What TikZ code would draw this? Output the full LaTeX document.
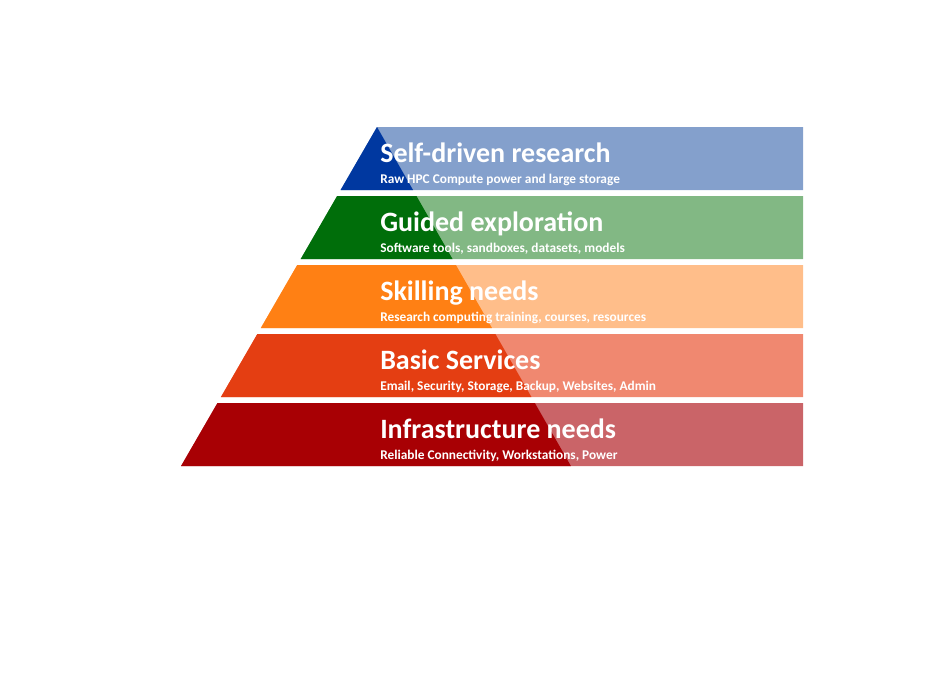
\documentclass[tikz,border=0pt]{standalone}
\usepackage{fontspec}
\setmainfont{Carlito}
\usetikzlibrary{positioning}
\definecolor{bluedk}{RGB}{0,56,160}
\definecolor{bluelt}{RGB}{132,160,204}
\definecolor{greendk}{RGB}{0,110,10}
\definecolor{greenlt}{RGB}{130,184,132}
\definecolor{orangedk}{RGB}{255,128,20}
\definecolor{orangelt}{RGB}{255,190,138}
\definecolor{redodk}{RGB}{228,62,18}
\definecolor{redolt}{RGB}{240,136,112}
\definecolor{reddk}{RGB}{168,0,4}
\definecolor{redlt}{RGB}{202,100,104}
\tikzset{title/.style={anchor=base west, inner sep=0pt, text=white, font=\fontsize{21}{24}\selectfont\bfseries},
  subtitle/.style={anchor=base west, inner sep=0pt, text=white, font=\fontsize{10}{12}\selectfont\bfseries}}
\begin{document}
\begin{tikzpicture}[x=0.75pt, y=-0.75pt]
\useasboundingbox (0,0) rectangle (945,699);
\foreach \t/\dk/\lt/\nm/\ttl/\sub in {
  127/bluedk/bluelt/self/Self-driven research/Raw HPC Compute power and large storage,
  196/greendk/greenlt/guided/Guided exploration/{Software tools, sandboxes, datasets, models},
  265/orangedk/orangelt/skill/Skilling needs/{Research computing training, courses, resources},
  334/redodk/redolt/basic/Basic Services/{Email, Security, Storage, Backup, Websites, Admin},
  403/reddk/redlt/infra/Infrastructure needs/{Reliable Connectivity, Workstations, Power}}{
  \pgfmathsetmacro{\b}{\t+63}
  % light band
  \fill[\lt] ({377-0.578*(\b-127)},\b) -- ({377-0.578*(\t-127)},\t) -- (803,\t) -- (803,\b) -- cycle;
  % dark part of the pyramid
  \fill[\dk] ({377-0.578*(\b-127)},\b) -- ({377-0.578*(\t-127)},\t) -- ({377+0.572*(\t-127)},\t) -- ({377+0.572*(\b-127)},\b) -- cycle;
  \node (\nm_title) [title] at (380,\t+35) {\ttl};
  \node (\nm_sub) [subtitle] at (380,\t+56) {\sub};
}
\end{tikzpicture}
\end{document}
